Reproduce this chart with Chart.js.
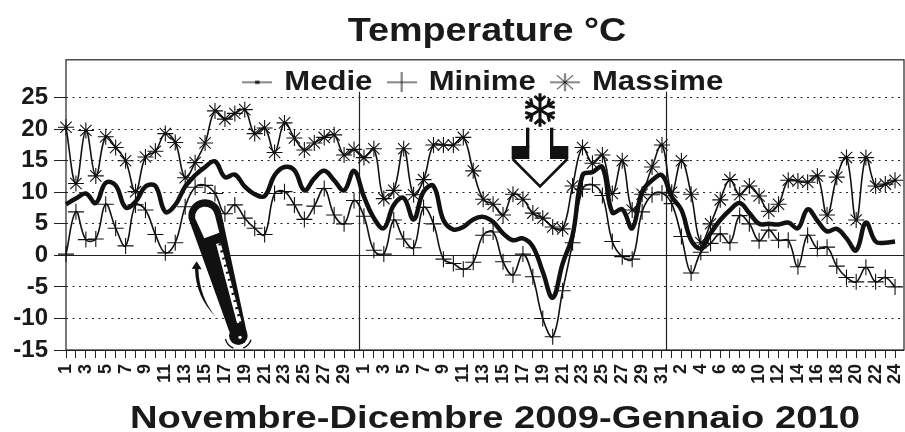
<!DOCTYPE html>
<html><head><meta charset="utf-8">
<style>html,body{margin:0;padding:0;background:#fff}canvas{display:block}</style>
<script src="https://cdn.jsdelivr.net/npm/chart.js@4"></script>
</head><body><canvas id="c" width="905" height="432"></canvas>
<script>
const tickLabels=['1','','3','','5','','7','','9','','11','','13','','15','','17','','19','','21','','23','','25','','27','','29','',
'1','','3','','5','','7','','9','','11','','13','','15','','17','','19','','21','','23','','25','','27','','29','','31',
'','2','','4','','6','','8','','10','','12','','14','','16','','18','','20','','22','','24'];
const medie=[8.1,9,9.8,8.3,11.5,11.1,7.6,8.5,10.9,11,6.9,8,10.9,12.7,14,14.9,12.4,12.8,10.9,9.7,9.4,12.7,14,13.5,10.3,12.2,13.4,11.9,10.3,13.4,
9.3,5.9,4.3,8,9.1,5.7,10.1,11,5.6,4.1,4.5,5.7,6.1,5.3,3.5,2.4,2.7,1.4,-2.6,-6.7,-1.3,3.2,12.7,13.2,14,6.8,7.3,4.3,10.1,11.9,12.7,
9.3,7.2,2.4,1.1,3.5,5.6,7.2,8.3,6.7,5,5,4.9,5.2,4.3,7.3,5.5,3.8,4.2,2.7,0.8,5.2,2.2,2,2.2];
const minime=[0.2,6.9,2.5,2.6,8.1,4.3,1.5,8,7.2,3.3,0.4,2,7.7,10.8,11.1,9.8,6.6,8,5.9,4.3,3.3,9.8,10.1,8,5.7,7.8,10.6,6.4,5,8.7,
6.2,0.8,0.2,5.6,2.6,1.2,7.6,5,-0.6,-1.3,-2.2,-1.1,3.2,3.7,-1,-3.1,0.2,-3.4,-10,-12.9,-5.6,2,10.5,11.2,9.5,2.2,-0.2,-0.6,6.9,9.6,9.9,
8.2,3,-2.8,0.5,1.9,3.4,2,6.3,5,2.3,4,2.4,2.4,-1.8,3.2,1.1,1.3,-1.7,-3.5,-4.2,-1.9,-4.2,-3.5,-5];
const massime=[20.3,11.4,19.8,12.6,18.8,17.1,15,10.1,15.6,16.5,19.3,17.9,12.3,14.7,17.8,22.9,21.6,22.5,23.1,19.3,20.2,16.3,21,18.6,16.7,17.8,18.7,19.1,15.9,16.8,
15.5,16.9,9,10.3,16.9,9.6,12,17.5,17.5,17.5,18.7,13.4,8.9,8.1,6.4,9.7,8.9,6.7,5.9,4.5,4.2,11,17.1,14.6,15.9,9.8,15,7.2,9.7,14,17.5,
10,15,9.7,2,5,8.8,12,9.6,11,9.4,7,8.1,11.9,11.8,11.6,12.6,6.4,12.4,15.5,5.6,15.5,11,11.3,11.9];
const yTickValues=[-15,-10,-5,0,5,10,15,20,25];
const seriesNames=['Medie','Minime','Massime'];
const monthBoundaries=[29.47,60.4];
const xKnotValues=[0,29,60,84,84.9];
const xKnotFractions=[0,0.3437,0.7112,0.9893,1];

class MonthLinearScale extends Chart.LinearScale{
  getPixelForValue(v){
    let i=0;
    while(i<xKnotValues.length-2&&v>xKnotValues[i+1])i++;
    const t=(v-xKnotValues[i])/(xKnotValues[i+1]-xKnotValues[i]);
    const f=xKnotFractions[i]+t*(xKnotFractions[i+1]-xKnotFractions[i]);
    return this.left+f*this.width;
  }
  _handleMargins(){}
}
MonthLinearScale.id='monthLinear';
MonthLinearScale.defaults=Chart.LinearScale.defaults;
Chart.register(MonthLinearScale);

function marker(draw){
  const c=document.createElement('canvas');c.width=26;c.height=20;
  const g=c.getContext('2d');g.strokeStyle='#111';g.fillStyle='#111';g.lineWidth=1;
  g.beginPath();g.moveTo(0,10);g.lineTo(26,10);g.stroke();
  draw(g);return c;
}
const legendMarkers=[
  marker(g=>{g.fillRect(11,8.5,4,3);}),
  marker(g=>{g.beginPath();g.moveTo(13,0);g.lineTo(13,20);g.stroke();}),
  marker(g=>{g.beginPath();g.moveTo(6,3);g.lineTo(20,17);g.moveTo(20,3);g.lineTo(6,17);g.moveTo(13,1);g.lineTo(13,19);g.stroke();})
];

function stretch(obj,method,sx,targetX,dy){
  const orig=obj[method];
  obj[method]=function(...a){
    const ctx=this.ctx;ctx.save();
    const cx=(this.left+this.right)/2;
    ctx.translate(targetX,dy(this));ctx.scale(sx,1);ctx.translate(-cx,0);
    const r=orig.apply(this,a);ctx.restore();return r;
  };
}
const textStyle={
  id:'textStyle',
  beforeLayout(chart){
    if(chart.$styled)return;chart.$styled=true;
    stretch(chart.titleBlock,'draw',1.11,487,()=>3);
    const leg=chart.legend,fit=leg.fit;
    leg.fit=function(){fit.call(this);this.height=0;};
    stretch(leg,'_draw',1.15,484.5,b=>chart.chartArea.top-b.top-6.5);
    const draw=leg.draw;
    leg.draw=function(){ // the legend floats over the plot and takes no layout room
      const b=this.bottom;this.bottom=this.top+60;draw.call(this);this.bottom=b;
    };
  },
  beforeDraw(chart){
    if(chart.$styledX)return;chart.$styledX=true;
    stretch(chart.scales.x,'drawTitle',1.193,495,()=>3);
  }
};
const frame={
  id:'frame',
  beforeDatasetsDraw(chart){
    const {ctx,chartArea:a,scales:{x}}=chart;
    ctx.save();ctx.strokeStyle='#222';ctx.lineWidth=1.2;
    ctx.strokeRect(a.left,a.top,a.width,a.height);
    monthBoundaries.forEach(v=>{
      const px=Math.round(x.getPixelForValue(v))+0.5;
      ctx.beginPath();ctx.moveTo(px,a.top+32);ctx.lineTo(px,a.bottom);ctx.stroke();
    });
    ctx.restore();
  }
};
const decorations={
  id:'decorations',
  afterDatasetsDraw(chart){
    const ctx=chart.ctx;
    ctx.save();ctx.translate(170,190);ctx.scale(1/3,1/3);
    ctx.fillStyle='#111';ctx.strokeStyle='#111';
    ctx.beginPath();ctx.arc(105,78,50,Math.PI*0.95,Math.PI*1.95);
    ctx.lineTo(230,425);ctx.lineTo(178,425);ctx.closePath();ctx.fill();
    ctx.beginPath();ctx.arc(205,437,28,0,Math.PI*2);ctx.fill();
    ctx.fillStyle='#fff';
    ctx.beginPath();ctx.arc(105,80,30,Math.PI*0.95,Math.PI*1.95);
    ctx.lineTo(148,128);ctx.lineTo(103,145);ctx.closePath();ctx.fill();
    ctx.strokeStyle='#fff';ctx.lineWidth=14;
    ctx.beginPath();ctx.moveTo(145,160);ctx.lineTo(208,398);ctx.stroke();
    ctx.strokeStyle='#111';ctx.lineWidth=9;ctx.setLineDash([6,16]);
    ctx.beginPath();ctx.moveTo(149,160);ctx.lineTo(212,398);ctx.stroke();ctx.setLineDash([]);
    ctx.fillStyle='#fff';ctx.beginPath();ctx.arc(210,442,5,0,Math.PI*2);ctx.fill();
    ctx.strokeStyle='#111';ctx.lineWidth=4;
    ctx.beginPath();ctx.arc(205,437,40,Math.PI*0.62,Math.PI*0.92);ctx.stroke();
    ctx.beginPath();ctx.arc(205,437,40,Math.PI*0.1,Math.PI*0.38);ctx.stroke();
    ctx.fillStyle='#111';
    ctx.beginPath();ctx.moveTo(80,214);ctx.lineTo(95,238);ctx.lineTo(65,236);ctx.closePath();ctx.fill();
    ctx.beginPath();ctx.moveTo(85,236);ctx.quadraticCurveTo(88,320,137,380);ctx.quadraticCurveTo(77,320,75,236);ctx.closePath();ctx.fill();
    ctx.restore();
    ctx.save();ctx.translate(500,85);ctx.scale(1/3,1/3);
    ctx.fillStyle='#111';ctx.strokeStyle='#111';
    ctx.fillRect(78,128,10,60);ctx.fillRect(150,128,10,60);
    ctx.fillRect(35,183,53,39);ctx.fillRect(150,183,55,39);
    ctx.lineWidth=8;ctx.lineJoin='miter';
    ctx.beginPath();ctx.moveTo(38,222);ctx.lineTo(120,304);ctx.lineTo(202,222);ctx.stroke();
    ctx.translate(120,75);ctx.lineWidth=9;
    for(let k=0;k<6;k++){
      ctx.save();ctx.rotate(k*Math.PI/3);
      ctx.beginPath();ctx.moveTo(0,0);ctx.lineTo(0,-50);
      ctx.moveTo(-16,-42);ctx.lineTo(0,-27);ctx.lineTo(16,-42);
      ctx.stroke();ctx.restore();
    }
    ctx.restore();
  }
};

new Chart(document.getElementById('c'),{
  type:'line',
  data:{datasets:[
    {label:seriesNames[0],data:medie.map((y,x)=>({x,y})),borderColor:'#111',borderWidth:4.5,pointRadius:0,tension:0.4,fill:false,clip:false,order:1},
    {label:seriesNames[1],data:minime.map((y,x)=>({x,y})),borderColor:'#111',backgroundColor:'#111',borderWidth:1.6,pointStyle:'cross',pointRadius:8,pointBorderWidth:1.1,pointBorderColor:'#111',tension:0.4,fill:false,clip:false,order:2},
    {label:seriesNames[2],data:massime.map((y,x)=>({x,y})),borderColor:'#111',backgroundColor:'#111',borderWidth:1.6,pointStyle:'star',pointRadius:8,pointBorderWidth:1.1,pointBorderColor:'#111',tension:0.4,fill:false,clip:false,order:3}
  ]},
  options:{
    responsive:false,animation:false,parsing:false,normalized:true,
    layout:{autoPadding:false,padding:{left:0,right:1,top:0,bottom:0}},
    plugins:{
      tooltip:{enabled:false},
      title:{display:true,fullSize:false,text:'Temperature °C',color:'#1a1a1a',
        font:{family:'"Liberation Sans"',weight:'bold',size:34,lineHeight:1.2},padding:{top:8,bottom:11}},
      legend:{position:'top',align:'center',
        labels:{usePointStyle:true,pointStyleWidth:20,padding:15.5,color:'#1a1a1a',
          font:{family:'"Liberation Sans"',weight:'bold',size:27},
          generateLabels(chart){
            const items=Chart.defaults.plugins.legend.labels.generateLabels(chart);
            items.forEach((it,i)=>{it.pointStyle=legendMarkers[i];});
            return items;
          }}}
    },
    scales:{
      x:{type:'monthLinear',min:0,max:84.9,
        afterFit(s){s.height=82;s.paddingLeft=0;s.paddingRight=0;},
        ticks:{stepSize:1,autoSkip:false,includeBounds:false,minRotation:90,maxRotation:90,padding:6,color:'#1a1a1a',
          font:{family:'"Liberation Sans"',weight:'bold',size:18},
          callback:v=>tickLabels[v]??''},
        grid:{drawOnChartArea:false,drawTicks:true,tickLength:8,color:'#222',lineWidth:1},
        border:{display:false},
        title:{display:true,text:'Novembre-Dicembre 2009-Gennaio 2010',color:'#1a1a1a',
          font:{family:'"Liberation Sans"',weight:'bold',size:32,lineHeight:1},padding:{top:0,bottom:0}}
      },
      y:{min:-15,max:31,
        afterFit(s){s.width=66;},
        afterBuildTicks(s){s.ticks=yTickValues.map(value=>({value}));},
        ticks:{stepSize:5,padding:6,color:'#1a1a1a',font:{family:'"Liberation Sans"',weight:'bold',size:24}},
        grid:{color:'#222',lineWidth:1,tickLength:12,tickColor:'#222'},
        border:{display:false,dash:c=>(c.tick&&c.tick.value===0||c.tick&&c.tick.value===-15)?[]:[2,4.5]}
      }
    }
  },
  plugins:[textStyle,frame,decorations]
});
</script></body></html>
